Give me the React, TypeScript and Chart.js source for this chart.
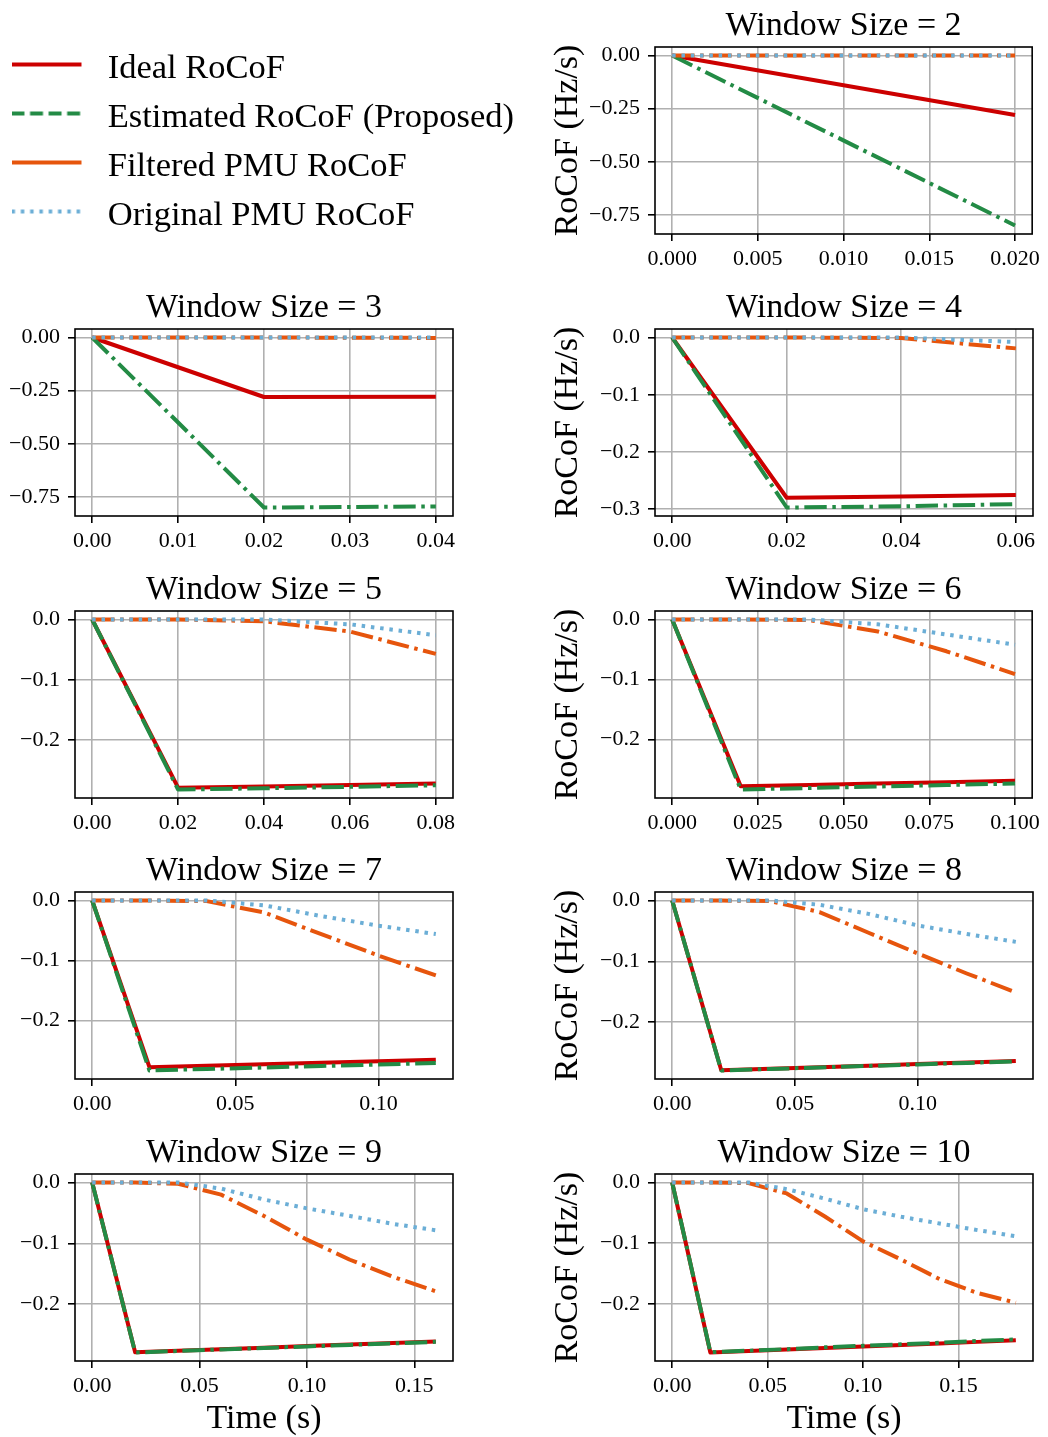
import React, { useEffect, useRef } from 'react';
import { Chart, registerables } from 'chart.js';

Chart.register(...registerables);

// ---------------- data ----------------
const TIME = [0, 0.02, 0.04, 0.06, 0.08, 0.1, 0.12, 0.14, 0.16, 0.18];
const SERIES_LABELS = ['Ideal RoCoF', 'Estimated RoCoF (Proposed)', 'Filtered PMU RoCoF', 'Original PMU RoCoF'];

const IDEAL_2 = [0, -0.28];
const EST_2 = [0, -0.8];
const FILT_2 = [0, 0];
const ORIG_2 = [0, 0];

const IDEAL_3 = [0, -0.28, -0.279];
const EST_3 = [0, -0.8, -0.795];
const FILT_3 = [0, 0, -0.002];
const ORIG_3 = [0, 0, 0];

const IDEAL_4 = [0, -0.28, -0.278, -0.275];
const EST_4 = [0, -0.297, -0.295, -0.291];
const FILT_4 = [0, 0, -0.001, -0.019];
const ORIG_4 = [0, 0, 0, -0.008];

const IDEAL_5 = [0, -0.279, -0.277, -0.2745, -0.272];
const EST_5 = [0, -0.282, -0.28, -0.2775, -0.275];
const FILT_5 = [0, 0, -0.003, -0.02, -0.057];
const ORIG_5 = [0, 0, 0, -0.008, -0.026];

const IDEAL_6 = [0, -0.278, -0.276, -0.2735, -0.2715, -0.269];
const EST_6 = [0, -0.2835, -0.281, -0.2785, -0.276, -0.2735];
const FILT_6 = [0, 0, -0.001, -0.02, -0.053, -0.091];
const ORIG_6 = [0, 0, 0, -0.008, -0.025, -0.042];

const IDEAL_7 = [0, -0.278, -0.2755, -0.273, -0.2705, -0.268, -0.2655];
const EST_7 = [0, -0.2835, -0.281, -0.2785, -0.276, -0.2735, -0.271];
const FILT_7 = [0, 0, -0.001, -0.02, -0.056, -0.092, -0.125];
const ORIG_7 = [0, 0, 0, -0.008, -0.026, -0.042, -0.056];

const IDEAL_8 = [0, -0.279, -0.2765, -0.274, -0.2715, -0.269, -0.2665, -0.264];
const EST_8 = [0, -0.2795, -0.277, -0.2745, -0.272, -0.2695, -0.267, -0.2645];
const FILT_8 = [0, 0, -0.001, -0.019, -0.053, -0.087, -0.12, -0.151];
const ORIG_8 = [0, 0, 0, -0.007, -0.022, -0.041, -0.055, -0.068];

const IDEAL_9 = [0, -0.279, -0.2765, -0.274, -0.2715, -0.269, -0.2665, -0.264, -0.2615];
const EST_9 = [0, -0.2795, -0.277, -0.2745, -0.272, -0.2695, -0.267, -0.2645, -0.262];
const FILT_9 = [0, 0, -0.002, -0.02, -0.055, -0.094, -0.127, -0.155, -0.179];
const ORIG_9 = [0, 0, 0, -0.01, -0.028, -0.0425, -0.055, -0.068, -0.0785];

const IDEAL_10 = [0, -0.28, -0.2775, -0.275, -0.2725, -0.27, -0.2675, -0.265, -0.2625, -0.26];
const EST_10 = [0, -0.2795, -0.277, -0.2745, -0.2715, -0.269, -0.2665, -0.264, -0.261, -0.2585];
const FILT_10 = [0, 0, -0.001, -0.018, -0.056, -0.097, -0.127, -0.159, -0.182, -0.198];
const ORIG_10 = [0, 0, 0, -0.011, -0.0265, -0.044, -0.0565, -0.0675, -0.0785, -0.0885];

// tick values
const X_TICKS_2 = [0, 0.005, 0.01, 0.015, 0.02];
const X_TICKS_3 = [0, 0.01, 0.02, 0.03, 0.04];
const X_TICKS_4 = [0, 0.02, 0.04, 0.06];
const X_TICKS_5 = [0, 0.02, 0.04, 0.06, 0.08];
const X_TICKS_6 = [0, 0.025, 0.05, 0.075, 0.1];
const X_TICKS_7 = [0, 0.05, 0.1];
const X_TICKS_9 = [0, 0.05, 0.1, 0.15];
const Y_TICKS_WIDE = [0, -0.25, -0.5, -0.75];
const Y_TICKS_4 = [0, -0.1, -0.2, -0.3];
const Y_TICKS_NARROW = [0, -0.1, -0.2];

// ---------------- styles ----------------
const FONT = "'Liberation Serif', 'Times New Roman', Times, serif";
const RED = '#cc0000';
const GREEN = '#238b45';
const ORANGE = '#e6550d';
const BLUE = '#6baed6';
const LW = 4;
const DASHDOT = [22.4, 5.6, 3.5, 5.6];
const DASHED = [12.95, 5.6];
const DOTTED = [3.5, 5.8];
const SERIES_COLORS = [RED, GREEN, ORANGE, BLUE];
const SERIES_DASH = [[], DASHDOT, DASHDOT, DOTTED];
const LEGEND_DASH = [[], DASHED, [], DOTTED];

// ---------------- layout ----------------
const COL_BOX_LEFT = [75, 655];
const COL_CANVAS = [[0, 525], [530, 1048]];
const COL_BOX_RIGHT = [453, 1033];
const ROW_BOX_TOP = [47, 329, 611, 892, 1174];
const BOX_H = 187;
const TITLE_H = 47;
const XAXIS_H = 40;
const PAGE_H = 1437;

type Panel = {
  ws: number; row: number; col: number;
  series: number[][]; xTicks: number[]; xDec: number; yTicks: number[]; yDec: number;
};

const PANELS: Panel[] = [
  { ws: 2, row: 0, col: 1, series: [IDEAL_2, EST_2, FILT_2, ORIG_2], xTicks: X_TICKS_2, xDec: 3, yTicks: Y_TICKS_WIDE, yDec: 2 },
  { ws: 3, row: 1, col: 0, series: [IDEAL_3, EST_3, FILT_3, ORIG_3], xTicks: X_TICKS_3, xDec: 2, yTicks: Y_TICKS_WIDE, yDec: 2 },
  { ws: 4, row: 1, col: 1, series: [IDEAL_4, EST_4, FILT_4, ORIG_4], xTicks: X_TICKS_4, xDec: 2, yTicks: Y_TICKS_4, yDec: 1 },
  { ws: 5, row: 2, col: 0, series: [IDEAL_5, EST_5, FILT_5, ORIG_5], xTicks: X_TICKS_5, xDec: 2, yTicks: Y_TICKS_NARROW, yDec: 1 },
  { ws: 6, row: 2, col: 1, series: [IDEAL_6, EST_6, FILT_6, ORIG_6], xTicks: X_TICKS_6, xDec: 3, yTicks: Y_TICKS_NARROW, yDec: 1 },
  { ws: 7, row: 3, col: 0, series: [IDEAL_7, EST_7, FILT_7, ORIG_7], xTicks: X_TICKS_7, xDec: 2, yTicks: Y_TICKS_NARROW, yDec: 1 },
  { ws: 8, row: 3, col: 1, series: [IDEAL_8, EST_8, FILT_8, ORIG_8], xTicks: X_TICKS_7, xDec: 2, yTicks: Y_TICKS_NARROW, yDec: 1 },
  { ws: 9, row: 4, col: 0, series: [IDEAL_9, EST_9, FILT_9, ORIG_9], xTicks: X_TICKS_9, xDec: 2, yTicks: Y_TICKS_NARROW, yDec: 1 },
  { ws: 10, row: 4, col: 1, series: [IDEAL_10, EST_10, FILT_10, ORIG_10], xTicks: X_TICKS_9, xDec: 2, yTicks: Y_TICKS_NARROW, yDec: 1 },
];

const fmt = (v: number, d: number) => {
  const s = Math.abs(v).toFixed(d);
  return v < -1e-12 ? '\u2212' + s : s;
};

const framePlugin = {
  id: 'axesFrame',
  afterDatasetsDraw(chart: any) {
    const { ctx, chartArea: a } = chart;
    ctx.save();
    ctx.strokeStyle = '#000';
    ctx.lineWidth = 1.6;
    ctx.setLineDash([]);
    ctx.strokeRect(a.left, a.top, a.right - a.left, a.bottom - a.top);
    ctx.restore();
  },
};

function panelGeometry(p: Panel) {
  const isBottom = p.row === 4;
  const [cl, cr] = COL_CANVAS[p.col];
  const top = ROW_BOX_TOP[p.row] - TITLE_H;
  const boxBottom = ROW_BOX_TOP[p.row] + BOX_H;
  const xAxisH = isBottom ? PAGE_H - boxBottom : XAXIS_H;
  return {
    left: cl, top, width: cr - cl, height: TITLE_H + BOX_H + xAxisH,
    yAxisW: COL_BOX_LEFT[p.col] - cl, padRight: cr - COL_BOX_RIGHT[p.col], xAxisH, isBottom,
  };
}

function makePanelConfig(p: Panel) {
  const g = panelGeometry(p);
  const n = p.ws;
  const xs = TIME.slice(0, n);
  const xmax = xs[n - 1];
  let ymin = 0, ymax = 0;
  p.series.forEach((s) => s.forEach((v) => { ymin = Math.min(ymin, v); ymax = Math.max(ymax, v); }));
  const span = ymax - ymin;
  const tickFont = { family: FONT, size: 22, lineHeight: 1 };
  const bigFont = { family: FONT, size: 34, lineHeight: 1, weight: 'normal' as const };
  const grid = { color: '#b0b0b0', lineWidth: 1.6, tickColor: '#000', tickWidth: 1.6, tickLength: 7, drawTicks: true };
  return {
    type: 'line' as const,
    data: {
      datasets: p.series.map((vals, i) => ({
        label: SERIES_LABELS[i],
        data: vals.map((v, j) => ({ x: xs[j], y: v })),
        borderColor: SERIES_COLORS[i],
        backgroundColor: SERIES_COLORS[i],
        borderWidth: LW,
        borderDash: SERIES_DASH[i],
        borderCapStyle: 'butt' as const,
        borderJoinStyle: 'round' as const,
        pointRadius: 0,
        tension: 0,
        fill: false,
        order: 4 - i,
      })),
    },
    options: {
      animation: false as const,
      responsive: false,
      devicePixelRatio: 1,
      events: [],
      layout: { padding: { left: 0, top: 0, right: g.padRight, bottom: 0 } },
      plugins: {
        legend: { display: false },
        tooltip: { enabled: false },
        title: {
          display: true, text: `Window Size = ${p.ws}`, color: '#000', font: bigFont,
          padding: { top: 9.5, bottom: 3.5 }, fullSize: false,
        },
      },
      scales: {
        x: {
          type: 'linear' as const,
          min: -0.05 * xmax, max: 1.05 * xmax,
          afterBuildTicks: (s: any) => { s.ticks = p.xTicks.map((v) => ({ value: v })); },
          afterFit: (s: any) => { s.height = g.xAxisH; },
          ticks: {
            callback: (v: any) => fmt(Number(v), p.xDec), font: tickFont, color: '#000',
            padding: 7.5, maxRotation: 0, minRotation: 0, autoSkip: false,
          },
          grid,
          border: { display: false },
          title: {
            display: g.isBottom, text: 'Time (s)', color: '#000', font: bigFont,
            padding: { top: 0, bottom: 1 },
          },
        },
        y: {
          type: 'linear' as const,
          min: ymin - 0.05 * span, max: ymax + 0.05 * span,
          afterBuildTicks: (s: any) => { s.ticks = p.yTicks.map((v) => ({ value: v })); },
          afterFit: (s: any) => { s.width = g.yAxisW; },
          ticks: { callback: (v: any) => fmt(Number(v), p.yDec), font: tickFont, color: '#000', padding: 8, autoSkip: false },
          grid,
          border: { display: false },
          title: {
            display: p.col === 1, text: 'RoCoF (Hz/s)', color: '#000', font: bigFont,
            padding: { top: 21.5, bottom: 0 },
          },
        },
      },
    },
    plugins: [framePlugin],
  };
}

function makeSwatch(color: string, dash: number[]) {
  const c = document.createElement('canvas');
  c.width = 79;
  c.height = 20;
  const ctx = c.getContext('2d')!;
  ctx.strokeStyle = color;
  ctx.lineWidth = LW;
  ctx.lineCap = 'butt';
  ctx.setLineDash(dash);
  ctx.beginPath();
  ctx.moveTo(0, 6);
  ctx.lineTo(70, 6);
  ctx.stroke();
  return c;
}

function makeLegendConfig() {
  const swatches = SERIES_LABELS.map((_, i) => makeSwatch(SERIES_COLORS[i], LEGEND_DASH[i]));
  return {
    type: 'line' as const,
    data: {
      datasets: SERIES_LABELS.map((label, i) => ({
        label, data: [] as number[], borderColor: SERIES_COLORS[i], borderDash: LEGEND_DASH[i], borderWidth: LW,
      })),
    },
    options: {
      animation: false as const,
      responsive: false,
      devicePixelRatio: 1,
      events: [],
      layout: { padding: { top: 36.7, left: 0, right: 0, bottom: 0 } },
      scales: { x: { display: false }, y: { display: false } },
      plugins: {
        tooltip: { enabled: false },
        title: { display: false },
        legend: {
          display: true, position: 'top' as const, align: 'start' as const, maxHeight: 400,
          labels: {
            usePointStyle: true, pointStyleWidth: 79, boxHeight: 34, padding: 14.5,
            color: '#000', font: { family: FONT, size: 34.5 },
            generateLabels: () => SERIES_LABELS.map((text, i) => ({
              text, pointStyle: swatches[i], fillStyle: 'rgba(0,0,0,0)', strokeStyle: SERIES_COLORS[i],
              lineWidth: 0, hidden: false, datasetIndex: i, fontColor: '#000',
            })),
          },
        },
      },
    },
  };
}

function ChartCanvas(props: { left: number; top: number; width: number; height: number; makeConfig: () => any }) {
  const ref = useRef<HTMLCanvasElement>(null);
  useEffect(() => {
    const chart = new Chart(ref.current as HTMLCanvasElement, props.makeConfig());
    return () => chart.destroy();
  }, []);
  return (
    <canvas
      ref={ref}
      width={props.width}
      height={props.height}
      style={{ position: 'absolute', left: props.left, top: props.top, width: props.width, height: props.height }}
    />
  );
}

export default function App() {
  return (
    <div style={{ position: 'absolute', left: 0, top: 0, width: 1048, height: 1437, overflow: 'hidden', background: '#fff' }}>
      <ChartCanvas left={-3} top={0} width={533} height={275} makeConfig={makeLegendConfig} />
      {PANELS.map((p) => {
        const g = panelGeometry(p);
        return (
          <ChartCanvas key={p.ws} left={g.left} top={g.top} width={g.width} height={g.height} makeConfig={() => makePanelConfig(p)} />
        );
      })}
    </div>
  );
}
